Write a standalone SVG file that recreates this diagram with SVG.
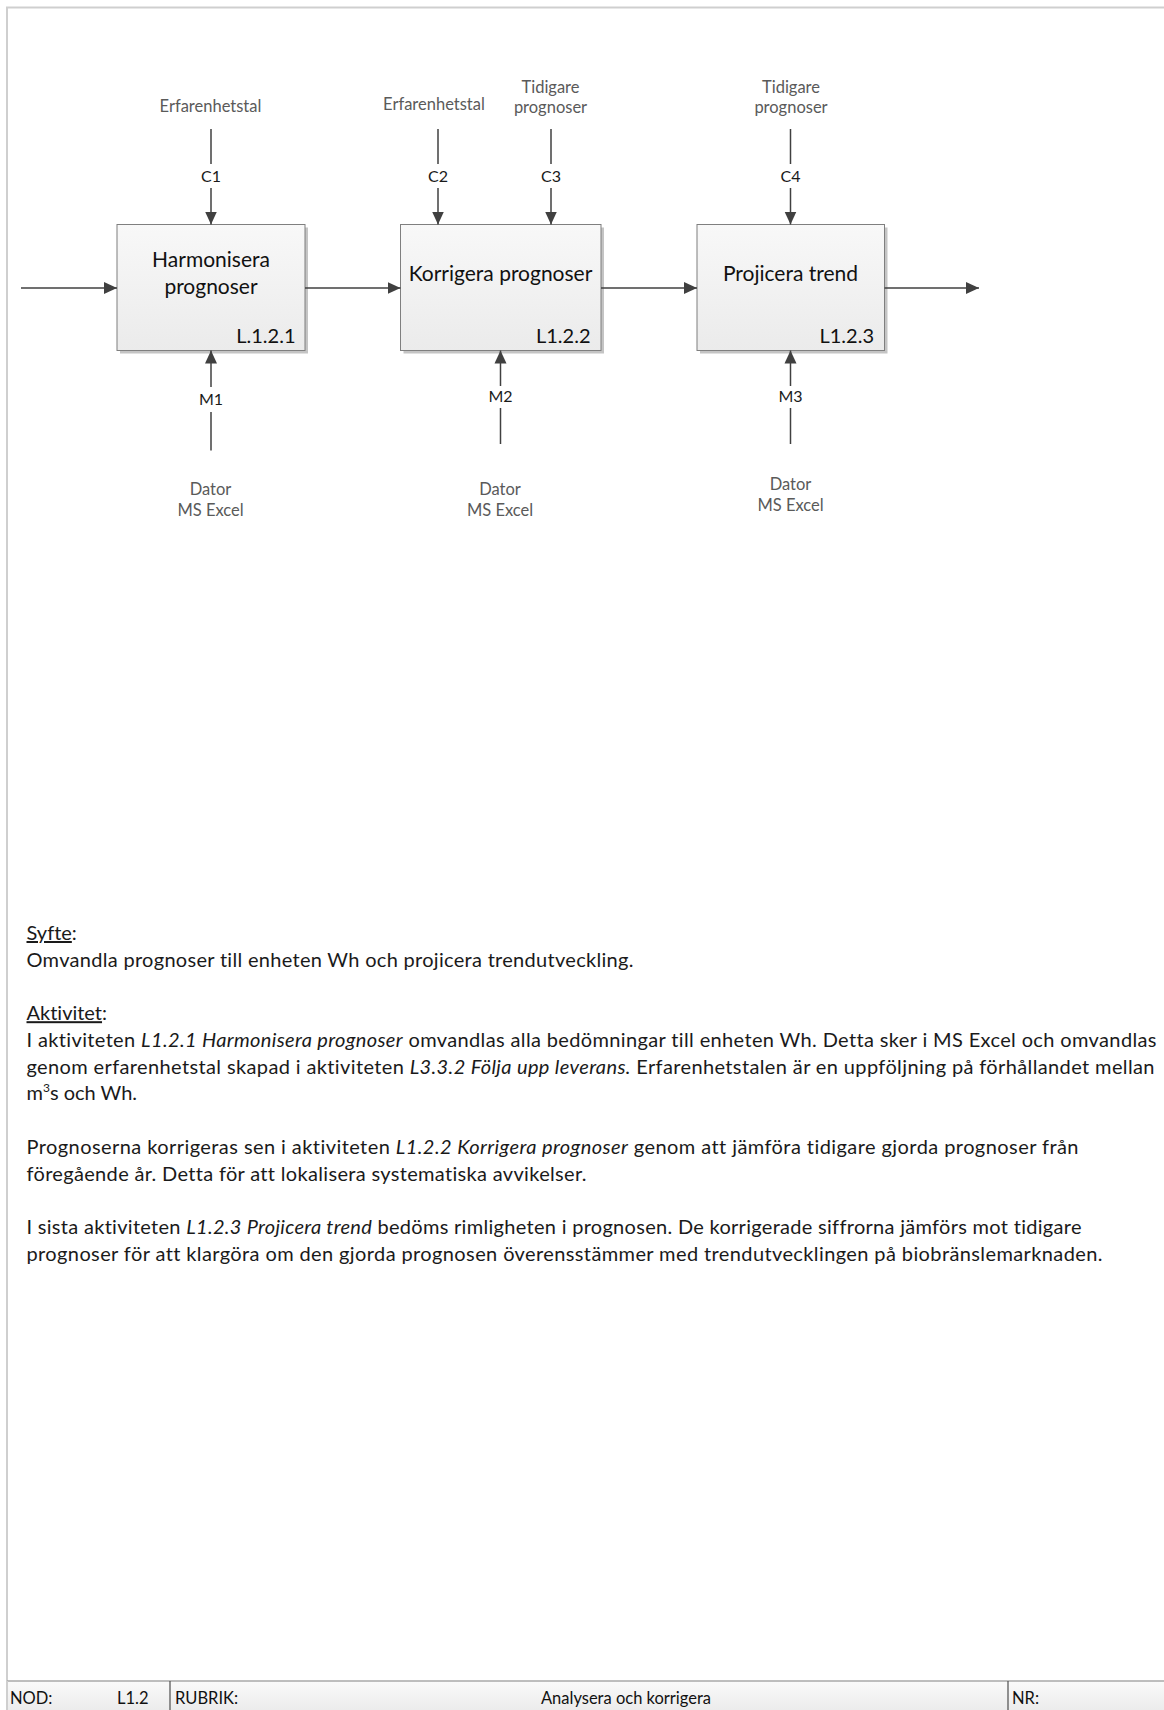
<svg xmlns="http://www.w3.org/2000/svg" width="1164" height="1710" viewBox="0 0 1164 1710">
  <style>
    text { font-variant-ligatures: none; }
    .frame { stroke: #cfcfcf; stroke-width: 2; fill: none; }
    .box { fill: url(#boxFill); stroke: #7f7f7f; stroke-width: 1; }
    .shadow { fill: #c4c4c4; }
    .title { font-family: Lato, "Liberation Sans", sans-serif; font-size: 21px; fill: #111; text-anchor: middle; }
    .code { font-family: Lato, "Liberation Sans", sans-serif; font-size: 20px; fill: #111; text-anchor: end; }
    .wire { stroke: #404040; stroke-width: 1.5; fill: none; }
    .arr { marker-end: url(#head); }
    .tag { font-family: Lato, "Liberation Sans", sans-serif; font-size: 16px; fill: #1a1a1a; text-anchor: middle; }
    .src { font-family: Lato, "Liberation Sans", sans-serif; font-size: 16.5px; fill: #5a5a5a; text-anchor: middle; }
    .body { font-family: Lato, "Liberation Sans", sans-serif; font-size: 20px; fill: #1a1a1a; }
    .it { font-style: italic; }
    .ul { text-decoration: underline; }
    .foot { font-family: Lato, "Liberation Sans", sans-serif; font-size: 16.5px; fill: #111; }
    .div { stroke: #4d4d4d; stroke-width: 1.2; }
  </style>
  <defs>
    <linearGradient id="boxFill" x1="0" y1="0" x2="0" y2="1">
      <stop offset="0" stop-color="#f8f8f8"/>
      <stop offset="1" stop-color="#ebebeb"/>
    </linearGradient>
    <linearGradient id="footFill" x1="0" y1="0" x2="0" y2="1">
      <stop offset="0" stop-color="#fafafa"/>
      <stop offset="1" stop-color="#ececec"/>
    </linearGradient>
    <marker id="head" markerUnits="userSpaceOnUse" markerWidth="14" markerHeight="13" refX="13" refY="6.5" orient="auto">
      <path d="M0,0.5 L13,6.5 L0,12.5 z" fill="#404040"/>
    </marker>
  </defs>

  <rect x="0" y="0" width="1164" height="1710" fill="#ffffff"/>

  <!-- page border -->
  <g id="page-frame">
    <path class="frame" d="M7,1681 V7.5 H1164"/>
  </g>

  <!-- activity boxes -->
  <g id="node-L121">
    <rect class="shadow" x="120" y="227.5" width="188" height="126"/>
    <rect class="box" x="117" y="224.5" width="188" height="126"/>
    <text class="title" x="211" y="267">Harmonisera</text>
    <text class="title" x="211" y="294">prognoser</text>
    <text class="code" x="295.5" y="343">L.1.2.1</text>
  </g>
  <g id="node-L122">
    <rect class="shadow" x="403.5" y="227.5" width="200.5" height="126"/>
    <rect class="box" x="400.5" y="224.5" width="200.5" height="126"/>
    <text class="title" x="500.5" y="280.5">Korrigera prognoser</text>
    <text class="code" x="590.5" y="343">L1.2.2</text>
  </g>
  <g id="node-L123">
    <rect class="shadow" x="700" y="227.5" width="187.5" height="126"/>
    <rect class="box" x="697" y="224.5" width="187.5" height="126"/>
    <text class="title" x="790.5" y="280.5">Projicera trend</text>
    <text class="code" x="874" y="343">L1.2.3</text>
  </g>

  <!-- connectors: inputs/outputs, controls, mechanisms -->
  <g id="connectors">
    <line class="wire arr" x1="21" y1="288" x2="117" y2="288"/>
    <line class="wire arr" x1="305" y1="288" x2="400.5" y2="288"/>
    <line class="wire arr" x1="601" y1="288" x2="697" y2="288"/>
    <line class="wire arr" x1="884.5" y1="288" x2="979" y2="288"/>

    <!-- controls -->
    <line class="wire" x1="211" y1="129" x2="211" y2="164"/>
    <text class="tag" x="211" y="182">C1</text>
    <line class="wire arr" x1="211" y1="188" x2="211" y2="224.5"/>

    <line class="wire" x1="438" y1="129" x2="438" y2="164"/>
    <text class="tag" x="438" y="182">C2</text>
    <line class="wire arr" x1="438" y1="188" x2="438" y2="224.5"/>

    <line class="wire" x1="551" y1="129" x2="551" y2="164"/>
    <text class="tag" x="551" y="182">C3</text>
    <line class="wire arr" x1="551" y1="188" x2="551" y2="224.5"/>

    <line class="wire" x1="790.5" y1="129" x2="790.5" y2="164"/>
    <text class="tag" x="790.5" y="182">C4</text>
    <line class="wire arr" x1="790.5" y1="188" x2="790.5" y2="224.5"/>

    <!-- mechanisms -->
    <line class="wire" x1="211" y1="450.5" x2="211" y2="412"/>
    <text class="tag" x="211" y="404.5">M1</text>
    <line class="wire arr" x1="211" y1="387" x2="211" y2="350.5"/>

    <line class="wire" x1="500.5" y1="444" x2="500.5" y2="408"/>
    <text class="tag" x="500.5" y="402">M2</text>
    <line class="wire arr" x1="500.5" y1="386" x2="500.5" y2="350.5"/>

    <line class="wire" x1="790.5" y1="444" x2="790.5" y2="408"/>
    <text class="tag" x="790.5" y="402">M3</text>
    <line class="wire arr" x1="790.5" y1="386" x2="790.5" y2="350.5"/>
  </g>

  <!-- sources of controls and mechanisms -->
  <g id="arrow-sources">
    <text class="src" x="210.5" y="112">Erfarenhetstal</text>
    <text class="src" x="434" y="110">Erfarenhetstal</text>
    <text class="src" x="550.5" y="93">Tidigare</text>
    <text class="src" x="550.5" y="113">prognoser</text>
    <text class="src" x="791" y="93">Tidigare</text>
    <text class="src" x="791" y="113">prognoser</text>

    <text class="src" x="210.5" y="495">Dator</text>
    <text class="src" x="210.5" y="516">MS Excel</text>
    <text class="src" x="500" y="495">Dator</text>
    <text class="src" x="500" y="516">MS Excel</text>
    <text class="src" x="790.5" y="490">Dator</text>
    <text class="src" x="790.5" y="511">MS Excel</text>
  </g>

  <!-- description -->
  <g id="description" class="body">
    <text x="26.5" y="940"><tspan class="ul">Syfte</tspan>:</text>
    <text x="26.5" y="966.7" textLength="607" lengthAdjust="spacing">Omvandla prognoser till enheten Wh och projicera trendutveckling.</text>
    <text x="26.5" y="1020.2"><tspan class="ul">Aktivitet</tspan>:</text>
    <text x="26.5" y="1046.9" textLength="1130" lengthAdjust="spacing">I aktiviteten <tspan class="it">L1.2.1 Harmonisera prognoser</tspan> omvandlas alla bedömningar till enheten Wh. Detta sker i MS Excel och omvandlas</text>
    <text x="26.5" y="1073.7" textLength="1128" lengthAdjust="spacing">genom erfarenhetstal skapad i aktiviteten <tspan class="it">L3.3.2 Följa upp leverans.</tspan> Erfarenhetstalen är en uppföljning på förhållandet mellan</text>
    <text x="26.5" y="1100.4">m<tspan font-size="12" dy="-8">3</tspan><tspan dy="8">s och Wh.</tspan></text>
    <text x="26.5" y="1153.8" textLength="1052" lengthAdjust="spacing">Prognoserna korrigeras sen i aktiviteten <tspan class="it">L1.2.2 Korrigera prognoser</tspan> genom att jämföra tidigare gjorda prognoser från</text>
    <text x="26.5" y="1180.6" textLength="560" lengthAdjust="spacing">föregående år. Detta för att lokalisera systematiska avvikelser.</text>
    <text x="26.5" y="1234" textLength="1055" lengthAdjust="spacing">I sista aktiviteten <tspan class="it">L1.2.3 Projicera trend</tspan> bedöms rimligheten i prognosen. De korrigerade siffrorna jämförs mot tidigare</text>
    <text x="26.5" y="1260.8" textLength="1076" lengthAdjust="spacing">prognoser för att klargöra om den gjorda prognosen överensstämmer med trendutvecklingen på biobränslemarknaden.</text>
  </g>

  <!-- title block -->
  <g id="title-block">
    <rect x="7" y="1681" width="1157" height="29" fill="url(#footFill)"/>
    <line x1="7" y1="1681" x2="1164" y2="1681" stroke="#a8a8a8" stroke-width="1.5"/>
    <line x1="7" y1="1681" x2="7" y2="1710" stroke="#cfcfcf" stroke-width="2"/>
    <line class="div" x1="170" y1="1681" x2="170" y2="1710"/>
    <line class="div" x1="1008" y1="1681" x2="1008" y2="1710"/>
    <text class="foot" x="10" y="1704">NOD:</text>
    <text class="foot" x="117" y="1704">L1.2</text>
    <text class="foot" x="175" y="1704">RUBRIK:</text>
    <text class="foot" x="626" y="1704" text-anchor="middle">Analysera och korrigera</text>
    <text class="foot" x="1012" y="1704">NR:</text>
  </g>
</svg>
